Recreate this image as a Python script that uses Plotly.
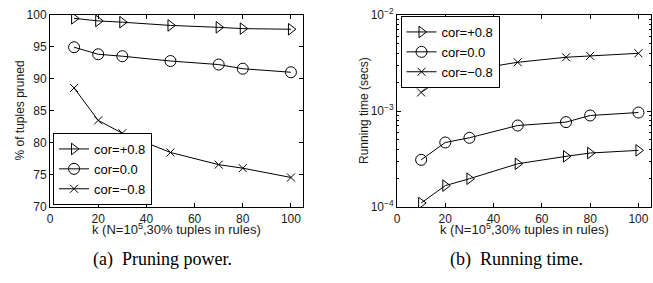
import plotly.graph_objects as go

k = [10, 20, 30, 50, 70, 80, 100]
series_names = ["cor=+0.8", "cor=0.0", "cor=\u22120.8"]

# (a) Pruning power: % of tuples pruned
pruned_pos = [99.4, 99.0, 98.8, 98.3, 98.0, 97.8, 97.7]
pruned_zero = [94.9, 93.8, 93.5, 92.75, 92.2, 91.55, 91.0]
pruned_neg = [88.55, 83.5, 81.5, 78.5, 76.6, 76.05, 74.6]

# (b) Running time (secs)
time_pos = [1.1e-4, 1.67e-4, 1.97e-4, 2.82e-4, 3.37e-4, 3.65e-4, 3.89e-4]
time_zero = [3.1e-4, 4.7e-4, 5.26e-4, 7.06e-4, 7.66e-4, 8.98e-4, 9.64e-4]
time_neg = [1.56e-3, 2.32e-3, 2.66e-3, 3.22e-3, 3.63e-3, 3.75e-3, 3.99e-3]

x_ticks = [0, 20, 40, 60, 80, 100]
y_ticks_a = [70, 75, 80, 85, 90, 95, 100]
y_ticks_b = [1e-4, 1e-3, 1e-2]
y_ticktext_b = ["10<sup>\u22124</sup>", "10<sup>\u22123</sup>", "10<sup>\u22122</sup>"]

W, H = 653, 283
FONT = "Liberation Sans"

markers = [
    dict(symbol="triangle-right-open", size=10),
    dict(symbol="circle-open", size=11),
    dict(symbol="x-thin-open", size=8),
]

fig = go.Figure()

for vals, name, m in zip([pruned_pos, pruned_zero, pruned_neg], series_names, markers):
    fig.add_trace(go.Scatter(
        x=k, y=vals, name=name, mode="lines+markers",
        line=dict(color="black", width=1),
        marker=dict(symbol=m["symbol"], size=m["size"], color="black",
                    line=dict(color="black", width=1)),
        xaxis="x", yaxis="y", legend="legend"))

for vals, name, m in zip([time_pos, time_zero, time_neg], series_names, markers):
    fig.add_trace(go.Scatter(
        x=k, y=vals, name=name, mode="lines+markers",
        line=dict(color="black", width=1),
        marker=dict(symbol=m["symbol"], size=m["size"], color="black",
                    line=dict(color="black", width=1)),
        xaxis="x2", yaxis="y2", legend="legend2"))

def px_x(p):
    return p / W

def px_y(p):
    return 1 - p / H

axis_common = dict(showline=True, linecolor="black", linewidth=1, mirror="ticks",
                   ticks="inside", ticklen=4, tickcolor="black", showgrid=False,
                   zeroline=False, automargin=False,
                   tickfont=dict(family=FONT, size=12, color="#1a1a1a"))

fig.update_layout(
    template="none",
    width=W, height=H, margin=dict(l=0, r=0, t=0, b=0, pad=0),
    paper_bgcolor="white", plot_bgcolor="white",
    showlegend=True,
    xaxis=dict(domain=[px_x(50), px_x(303)], range=[0, 105], tickvals=x_ticks,
               anchor="y", ticklabelstandoff=1, **axis_common),
    yaxis=dict(domain=[px_y(207), px_y(14.5)], range=[70, 100], tickvals=y_ticks_a,
               anchor="x", **axis_common),
    xaxis2=dict(domain=[px_x(397), px_x(650.5)], range=[0, 105], tickvals=x_ticks,
                anchor="y2", ticklabelstandoff=1, **axis_common),
    yaxis2=dict(domain=[px_y(207), px_y(15)], type="log", range=[-4, -2],
                tickvals=y_ticks_b, ticktext=y_ticktext_b, anchor="x2",
                minor=dict(ticks="inside", ticklen=2, tickcolor="black", dtick="D1"),
                **axis_common),
    legend=dict(x=px_x(53), y=px_y(205), xanchor="left", yanchor="bottom",
                bgcolor="white", bordercolor="black", borderwidth=1,
                font=dict(family=FONT, size=13, color="black"),
                tracegroupgap=0, itemwidth=30),
    legend2=dict(x=px_x(400.5), y=px_y(16), xanchor="left", yanchor="top",
                 bgcolor="white", bordercolor="black", borderwidth=1,
                 font=dict(family=FONT, size=13, color="black"),
                 tracegroupgap=0, itemwidth=30),
)

annots = [
    dict(text="k (N=10<sup>5</sup>,30% tuples in rules)", x=px_x(176.5), y=px_y(229),
         font=dict(family=FONT, size=13, color="#1a1a1a")),
    dict(text="k (N=10<sup>5</sup>,30% tuples in rules)", x=px_x(524), y=px_y(229),
         font=dict(family=FONT, size=13, color="#1a1a1a")),
    dict(text="% of tuples pruned", x=px_x(19), y=px_y(110.5), textangle=-90,
         font=dict(family=FONT, size=12, color="#1a1a1a")),
    dict(text="Running time (secs)", x=px_x(364), y=px_y(111), textangle=-90,
         font=dict(family=FONT, size=12, color="#1a1a1a")),
    dict(text="(a)  Pruning power.", x=px_x(162), y=px_y(259),
         font=dict(family="Liberation Serif", size=18, color="black")),
    dict(text="(b)  Running time.", x=px_x(516), y=px_y(259),
         font=dict(family="Liberation Serif", size=18, color="black")),
]
for a in annots:
    fig.add_annotation(xref="paper", yref="paper", showarrow=False,
                       xanchor="center", yanchor="middle", **a)

fig.write_html("out.html", config={"displayModeBar": False},
               post_script="document.body.style.margin='0';document.body.style.padding='0';")
